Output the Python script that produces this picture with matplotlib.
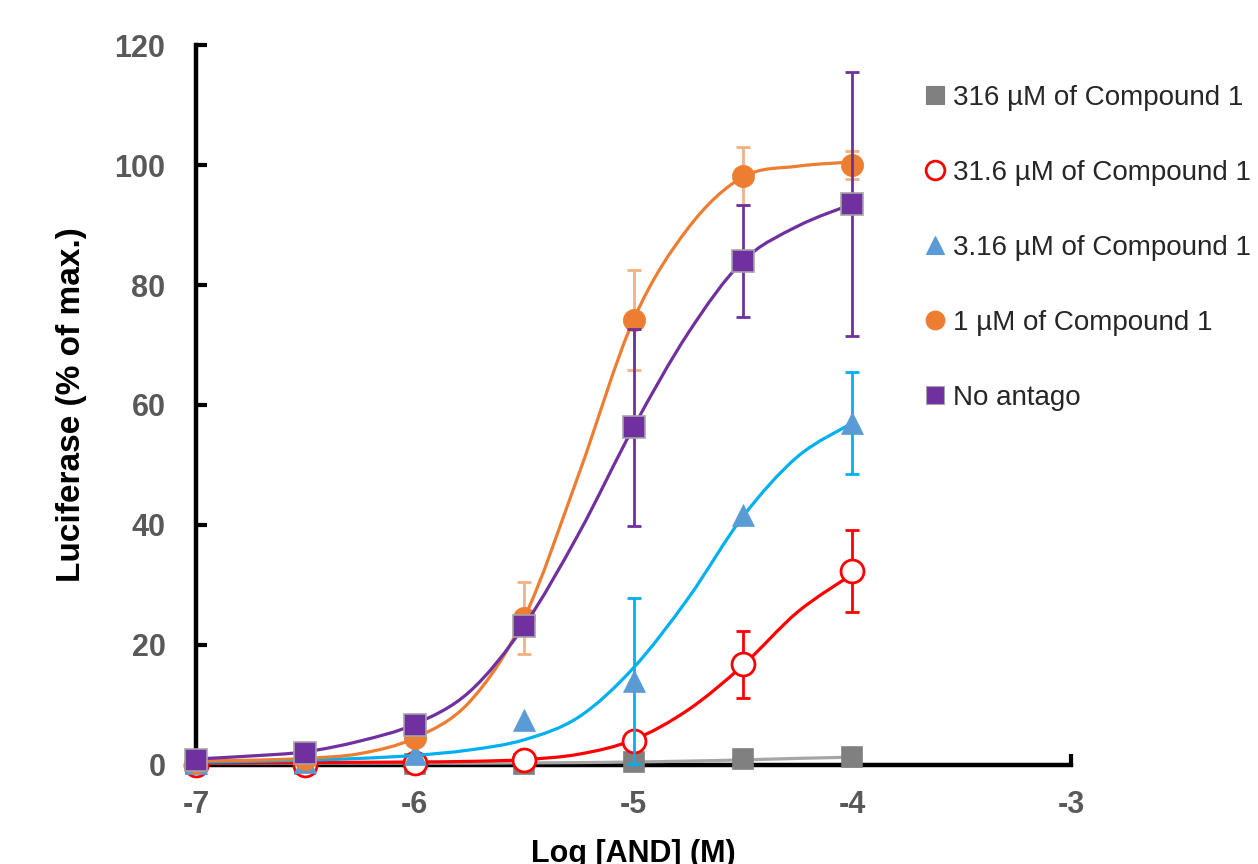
import numpy as np
import matplotlib
matplotlib.use("Agg")
from matplotlib import pyplot as plt
from matplotlib.path import Path
from matplotlib.patches import PathPatch
from matplotlib.lines import Line2D

plt.rcParams['font.family'] = ['Liberation Sans', 'DejaVu Sans']
plt.rcParams['axes.unicode_minus'] = False

# measured points
log_and = [-7, -6.5, -6, -5.5, -5, -4.5, -4]
labels = ["316 µM of Compound 1", "31.6 µM of Compound 1", "3.16 µM of Compound 1",
          "1 µM of Compound 1", "No antago"]

gray_y = [0.2, 0.2, 0.2, 0.1, 0.5, 1.0, 1.3]
red_y = [0.0, 0.0, 0.3, 0.9, 4.0, 16.8, 32.3]
red_err = [0, 0, 0, 0, 0, 5.6, 6.8]
blue_y = [0.3, 0.5, 1.8, 7.5, 14.0, 41.7, 57.0]
blue_err = [0, 0, 0, 0, 13.8, 0, 8.5]
orange_y = [0.5, 1.0, 4.5, 24.5, 74.2, 98.2, 100.0]
orange_err = [0, 0, 0, 6.0, 8.3, 4.8, 2.3]
purple_y = [0.8, 2.0, 6.7, 23.2, 56.3, 84.0, 93.5]
purple_err = [0, 0, 0, 0, 16.4, 9.3, 22.0]

# fitted curves, read every 0.25 log unit
fit_x = [-7, -6.75, -6.5, -6.25, -6, -5.75, -5.5, -5.25, -5, -4.75, -4.5, -4.25, -4]
gray_fit = [0.3, 0.3, 0.3, 0.3, 0.3, 0.3, 0.35, 0.4, 0.5, 0.65, 0.85, 1.1, 1.3]
red_fit = [0.3, 0.35, 0.4, 0.45, 0.5, 0.6, 0.9, 1.8, 4.2, 9.2, 16.6, 25.5, 31.8]
blue_fit = [0.5, 0.6, 0.8, 1.1, 1.6, 2.5, 4.2, 8.0, 16.2, 27.8, 41.4, 51.4, 57.0]
orange_fit = [0.7, 0.8, 1.1, 1.9, 4.5, 10.5, 24.5, 48.5, 74.2, 89.5, 98.0, 99.8, 100.5]
purple_fit = [1.0, 1.5, 2.2, 4.0, 6.8, 12.2, 23.2, 38.6, 56.3, 72.0, 84.0, 89.8, 93.5]


def smooth_path(xs, ys):
    # Bezier path through the points (same idea as a spreadsheet "smoothed line")
    p = np.column_stack([xs, ys]).astype(float)
    pts = np.vstack([p[0], p, p[-1]])
    verts = [tuple(p[0])]
    codes = [Path.MOVETO]
    for i in range(1, len(pts) - 2):
        p0, p1, p2, p3 = pts[i - 1], pts[i], pts[i + 1], pts[i + 2]
        c1 = p1 + (p2 - p0) / 6.0
        c2 = p2 - (p3 - p1) / 6.0
        verts += [tuple(c1), tuple(c2), tuple(p2)]
        codes += [Path.CURVE4] * 3
    return Path(verts, codes)


fig = plt.figure(figsize=(12.58, 8.64), dpi=100)
ax = fig.add_axes([0.1558, 0.1146, 0.6956, 0.8333])

# fit, points, err, line colour, face, marker, edge, legend edge, err colour, size
series = [
    (gray_fit, gray_y, None, '#A6A6A6', '#808080', 's', '#808080', '#808080', None, 15),
    (red_fit, red_y, red_err, '#FF0000', 'white', 'o', '#FF0000', '#FF0000', '#FF0000', 16.5),
    (blue_fit, blue_y, blue_err, '#00B0F0', '#5B9BD5', '^', '#5B9BD5', '#5B9BD5', '#00B0F0', 16.5),
    (orange_fit, orange_y, orange_err, '#ED7D31', '#ED7D31', 'o', '#ED7D31', '#ED7D31', '#F4B183', 16),
    (purple_fit, purple_y, purple_err, '#7030A0', '#7030A0', 's', '#A5A5A5', '#A5A5A5', '#7030A0', 16.5),
]

handles = []
for k, (fit, ys, err, lc, fc, mk, ec, hc, errc, ms) in enumerate(series):
    z = 3 + k
    ax.add_patch(PathPatch(smooth_path(fit_x, fit), facecolor='none', edgecolor=lc,
                           lw=2.3, zorder=z, clip_on=False))
    if err is not None:
        xe = [x for x, e in zip(log_and, err) if e > 0]
        ye = [y for y, e in zip(ys, err) if e > 0]
        ee = [e for e in err if e > 0]
        ax.errorbar(xe, ye, yerr=ee, fmt='none', ecolor=errc, elinewidth=2,
                    capsize=5, capthick=2, zorder=z, clip_on=False)
    mew = 2 if fc == 'white' else (1.2 if mk == 's' else 0.5)
    ax.plot(log_and, ys, linestyle='none', marker=mk, ms=ms, mfc=fc, mec=ec,
            mew=mew, zorder=z + 0.5, clip_on=False)
    handles.append(Line2D([], [], linestyle='none', marker=mk, ms=13.5, mfc=fc,
                          mec=hc, mew=2 if fc == 'white' else 0.8))

ax.set_xlim(-7, -3)
ax.set_ylim(0, 120)
ax.set_xticks([-7, -6, -5, -4, -3])
ax.set_yticks(range(0, 121, 20))
for s in ['top', 'right']:
    ax.spines[s].set_visible(False)
for s in ['left', 'bottom']:
    ax.spines[s].set_linewidth(3.2)
    ax.spines[s].set_color('black')
    ax.spines[s].set_zorder(2)
ax.tick_params(axis='both', direction='in', length=8, width=3, color='black',
               labelcolor='#595959')
ax.tick_params(axis='y', pad=22, labelsize=22)
ax.tick_params(axis='x', pad=18, labelsize=22)
for t in ax.get_xticklabels() + ax.get_yticklabels():
    t.set_fontweight('bold')

ax.set_ylabel('Luciferase (% of max.)', fontsize=24, fontweight='bold', labelpad=20)
ax.set_xlabel('Log [AND] (M)', fontsize=22, fontweight='bold', labelpad=14)

fig.legend(handles, labels, loc='upper left', bbox_to_anchor=(0.727, 0.915),
           frameon=False, fontsize=20, labelspacing=1.77, handlelength=0.7,
           handletextpad=0.3, labelcolor='#262626', borderaxespad=0)

fig.savefig('out.png', dpi=100)
